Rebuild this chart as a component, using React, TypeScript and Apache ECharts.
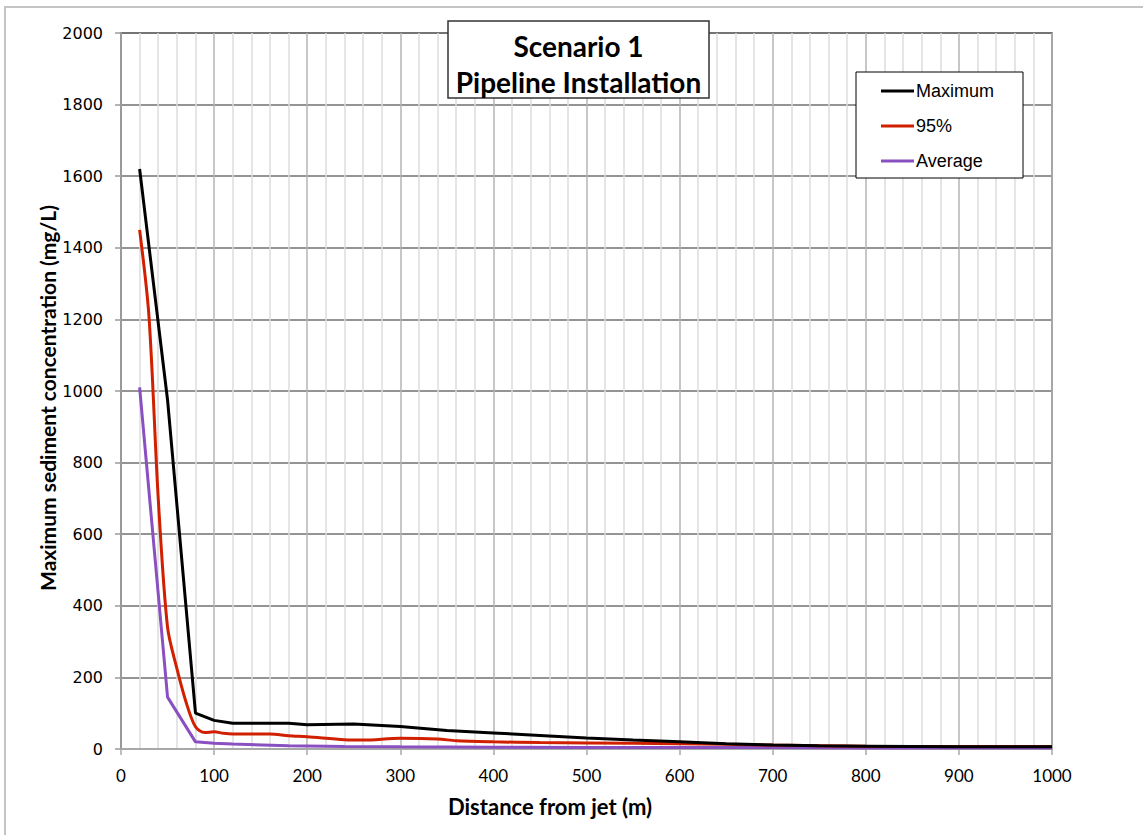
import React, { useEffect, useRef } from "react";
import * as echarts from "echarts";

const maxDist = [20, 50, 80, 100, 120, 150, 180, 200, 250, 300, 350, 400, 450, 500, 550, 600, 650, 700, 750, 800, 850, 900, 950, 1000];
const maxVals = [1620, 975, 100, 80, 72, 72, 72, 68, 70, 63, 52, 45, 38, 31, 25, 20, 15, 11, 9, 8, 7, 6, 6, 6];

const p95Dist = [20, 30, 40, 50, 60, 70, 80, 90, 100, 110, 120, 160, 180, 200, 240, 260, 300, 340, 360, 400, 450, 500, 600, 700, 800, 900, 1000];
const p95Vals = [1450, 1210, 700, 340, 225, 130, 62, 46, 48, 44, 42, 42, 37, 34, 26, 25, 30, 28, 23, 20, 18, 17, 15, 11, 8, 7, 7];

const avgDist = [20, 50, 80, 100, 120, 180, 240, 300, 400, 500, 600, 700, 800, 1000];
const avgVals = [1010, 145, 20, 16, 14, 9, 7, 6, 5, 4, 4, 4, 3, 3];

const xTicks = { min: 0, max: 1000, interval: 100 };
const yTicks = { min: 0, max: 2000, interval: 200 };

const pair = (xs: number[], ys: number[]) => xs.map((x, i) => [x, ys[i]]);

export default function App() {
  const ref = useRef<HTMLDivElement>(null);
  useEffect(() => {
    if (!ref.current) return;
    const chart = echarts.init(ref.current, null, { renderer: "svg" });
    chart.setOption({
      animation: false,
      backgroundColor: "#ffffff",
      grid: { left: 121, top: 33, right: 91, bottom: 86, show: true, borderColor: "#555", borderWidth: 1.5 },
      xAxis: {
        type: "value",
        min: xTicks.min,
        max: xTicks.max,
        interval: xTicks.interval,
        axisLine: { show: true, onZero: false, lineStyle: { color: "#a8a8a8", width: 2 } },
        axisTick: { show: true, length: 6, lineStyle: { color: "#a8a8a8", width: 1.5 } },
        axisLabel: { margin: 18, color: "#000", fontFamily: "Lato", fontSize: 17, formatter: (v: number) => String(v) },
        splitLine: { show: true, lineStyle: { color: "#b4b4b4", width: 1.5 } },
        minorTick: { show: false, splitNumber: 5 },
        minorSplitLine: { show: true, lineStyle: { color: "#dcdcdc", width: 1.5 } },
      },
      yAxis: {
        type: "value",
        min: yTicks.min,
        max: yTicks.max,
        interval: yTicks.interval,
        axisLine: { show: true, lineStyle: { color: "#9a9a9a", width: 2 } },
        axisTick: { show: true, length: 6, lineStyle: { color: "#9a9a9a", width: 1.5 } },
        axisLabel: { margin: 18, color: "#000", fontFamily: "DejaVu Sans", fontSize: 16, formatter: (v: number) => String(v) },
        splitLine: { show: true, lineStyle: { color: "#707070", width: 1.5 } },
      },
      legend: {
        orient: "vertical",
        left: 856,
        top: 72,
        backgroundColor: "#fff",
        borderColor: "#000",
        borderWidth: 1,
        padding: [10, 29, 8, 25],
        itemGap: 17,
        itemWidth: 33,
        itemHeight: 3,
        icon: "rect",
        textStyle: { fontFamily: "Liberation Sans", fontSize: 18, color: "#000", padding: [0, 0, 0, -3] },
        data: ["Maximum", "95%", "Average"],
      },
      graphic: [
        {
          type: "rect",
          shape: { x: 5, y: 7, width: 1300, height: 1000 },
          style: { fill: "none", stroke: "#c4c4c4", lineWidth: 2 },
          silent: true,
        },
        {
          type: "rect",
          shape: { x: 448, y: 21, width: 261, height: 77 },
          style: { fill: "#fff", stroke: "#333", lineWidth: 1.5 },
          z: 10,
        },
        {
          type: "text",
          x: 578.5,
          y: 46,
          z: 11,
          style: { text: "Scenario 1", fontFamily: "Lato", fontWeight: "bold", fontSize: 28, fill: "#000", align: "center", verticalAlign: "middle" },
        },
        {
          type: "text",
          x: 578.5,
          y: 82,
          z: 11,
          style: { text: "Pipeline Installation", fontFamily: "Lato", fontWeight: "bold", fontSize: 28, fill: "#000", align: "center", verticalAlign: "middle" },
        },
        {
          type: "text",
          x: 47,
          y: 398,
          rotation: Math.PI / 2,
          z: 11,
          style: { text: "Maximum sediment concentration (mg/L)", fontFamily: "Lato", fontWeight: "bold", fontSize: 21, fill: "#000", align: "center", verticalAlign: "middle" },
        },
        {
          type: "text",
          x: 550,
          y: 806,
          z: 11,
          style: { text: "Distance from jet (m)", fontFamily: "Lato", fontWeight: "bold", fontSize: 22, fill: "#000", align: "center", verticalAlign: "middle" },
        },
      ],
      series: [
        {
          name: "Maximum",
          type: "line",
          data: pair(maxDist, maxVals),
          showSymbol: false,
          symbol: "none",
          lineStyle: { color: "#000", width: 3 },
          itemStyle: { color: "#000" },
          z: 5,
        },
        {
          name: "95%",
          type: "line",
          data: pair(p95Dist, p95Vals),
          showSymbol: false,
          symbol: "none",
          smooth: 0.3,
          lineStyle: { color: "#d02000", width: 3 },
          itemStyle: { color: "#d02000" },
          z: 4,
        },
        {
          name: "Average",
          type: "line",
          data: pair(avgDist, avgVals),
          showSymbol: false,
          symbol: "none",
          lineStyle: { color: "#8a4fc0", width: 3 },
          itemStyle: { color: "#8a4fc0" },
          z: 3,
        },
      ],
    });
    return () => chart.dispose();
  }, []);
  return <div ref={ref} style={{ position: "absolute", left: 0, top: 0, width: 1143, height: 835 }} />;
}
